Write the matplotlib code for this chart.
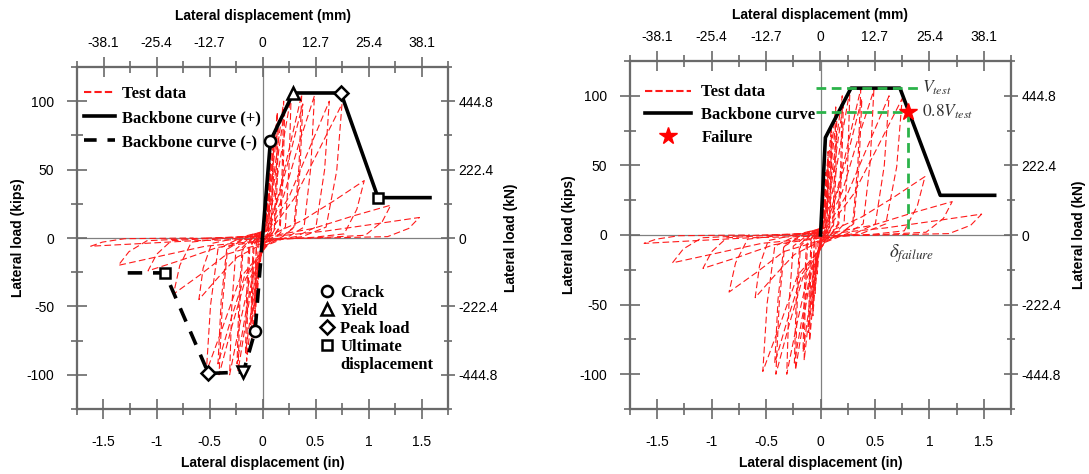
import matplotlib
matplotlib.use('Agg')
import matplotlib.pyplot as plt
from matplotlib.ticker import FixedLocator, MultipleLocator
from matplotlib.lines import Line2D

plt.rcParams['font.family'] = 'Liberation Sans'
plt.rcParams['axes.unicode_minus'] = False
plt.rcParams['mathtext.fontset'] = 'stix'

# test data, one list of (disp in, load kips) per cycle
cycles = [
    [(0,0),(0.01,8),(0.02,19),(0.03,30),(0.027,14),(0.02,2),(0.01,0),(0,-2),(-0.01,-9),(-0.02,-18),(-0.03,-28),(-0.027,-13),(-0.02,-2),(-0.01,0),(0,1)],
    [(-0.01,0),(0.01,5),(0.03,22),(0.05,45),(0.046,22),(0.04,4),(0.025,0),(0,-2),(-0.02,-12),(-0.035,-27),(-0.05,-42),(-0.046,-20),(-0.04,-3),(-0.02,0),(0,1)],
    [(-0.02,0),(0.01,4),(0.03,18),(0.05,38),(0.07,60),(0.065,30),(0.056,5),(0.035,0),(0,-3),(-0.03,-17),(-0.05,-37),(-0.07,-58),(-0.065,-28),(-0.056,-4),(-0.03,0)],
    [(-0.03,0),(0.01,3),(0.035,17),(0.055,35),(0.072,55),(0.067,27),(0.058,4),(0.036,0),(0,-2),(-0.03,-14),(-0.055,-33),(-0.072,-52),(-0.067,-25),(-0.058,-3),(-0.03,0)],
    [(-0.03,0),(0.01,5),(0.04,23),(0.07,50),(0.10,78),(0.093,39),(0.08,6),(0.05,1),(0.01,-3),(-0.04,-22),(-0.07,-49),(-0.10,-76),(-0.093,-37),(-0.08,-5),(-0.04,0)],
    [(-0.04,0),(0.01,4),(0.045,21),(0.075,46),(0.105,72),(0.098,36),(0.084,5),(0.05,1),(0.01,-3),(-0.045,-20),(-0.077,-45),(-0.11,-70),(-0.102,-34),(-0.088,-5),(-0.045,0)],
    [(-0.045,0),(0.015,5),(0.055,27),(0.1,60),(0.14,92),(0.13,46),(0.112,7),(0.07,1),(0.015,-4),(-0.06,-27),(-0.105,-58),(-0.15,-90),(-0.14,-45),(-0.12,-7),(-0.06,0)],
    [(-0.06,0),(0.015,5),(0.06,25),(0.105,56),(0.15,86),(0.14,43),(0.12,7),(0.075,1),(0.015,-4),(-0.065,-25),(-0.11,-55),(-0.16,-84),(-0.15,-42),(-0.13,-7),(-0.065,0)],
    [(-0.065,0),(0.02,6),(0.08,30),(0.14,65),(0.20,100),(0.186,50),(0.16,8),(0.1,1),(0.02,-5),(-0.09,-29),(-0.16,-63),(-0.23,-97),(-0.214,-48),(-0.184,-8),(-0.09,0)],
    [(-0.09,0),(0.02,5),(0.085,28),(0.15,62),(0.21,95),(0.195,47),(0.168,8),(0.105,1),(0.02,-5),(-0.095,-28),(-0.17,-60),(-0.24,-92),(-0.223,-46),(-0.192,-7),(-0.1,0)],
    [(-0.1,0),(0.03,6),(0.11,31),(0.19,68),(0.27,104),(0.25,52),(0.216,8),(0.135,1),(0.03,-5),(-0.12,-30),(-0.22,-65),(-0.31,-100),(-0.29,-50),(-0.25,-8),(-0.12,0)],
    [(-0.12,0),(0.04,6),(0.15,31),(0.26,68),(0.37,105),(0.344,52),(0.296,8),(0.185,1),(0.04,-5),(-0.16,-30),(-0.29,-65),(-0.41,-100),(-0.38,-50),(-0.33,-8),(-0.16,0)],
    [(-0.16,0),(0.04,5),(0.15,29),(0.27,64),(0.38,98),(0.353,49),(0.304,8),(0.19,1),(0.04,-5),(-0.17,-28),(-0.3,-60),(-0.42,-92),(-0.39,-46),(-0.336,-7),(-0.17,0)],
    [(-0.17,0),(0.05,6),(0.2,31),(0.34,68),(0.49,104),(0.456,52),(0.392,8),(0.245,1),(0.05,-5),(-0.21,-29),(-0.37,-64),(-0.53,-98),(-0.49,-49),(-0.42,-8),(-0.21,0)],
    [(-0.21,0),(0.06,6),(0.25,30),(0.44,65),(0.63,100),(0.586,50),(0.504,8),(0.315,1),(0.06,-2),(-0.24,-14),(-0.42,-29),(-0.60,-45),(-0.56,-22),(-0.48,-4),(-0.24,0)],
    [(-0.24,0),(0.08,6),(0.3,29),(0.53,64),(0.75,98),(0.7,49),(0.6,8),(0.375,1),(0.08,-2),(-0.34,-12),(-0.59,-27),(-0.84,-41),(-0.78,-20),(-0.67,-3),(-0.34,0)],
    [(-0.34,0),(0.1,3),(0.38,13),(0.67,27),(0.96,42),(0.89,21),(0.77,3),(0.48,0.5),(0.1,-1),(-0.43,-7),(-0.76,-16),(-1.08,-24),(-1.0,-12),(-0.86,-2),(-0.43,0)],
    [(-0.43,0),(0.12,2),(0.48,7),(0.85,16),(1.21,24),(1.13,12),(0.97,2),(0.6,0.5),(0.12,-1),(-0.54,-6),(-0.95,-13),(-1.36,-20),(-1.26,-10),(-1.09,-2),(-0.54,0)],
    [(-0.54,0),(0.15,1.5),(0.59,5),(1.04,10),(1.48,15),(1.38,7),(1.18,1),(0.74,0.3),(0.15,-0.5),(-0.65,-2),(-1.13,-4),(-1.62,-6),(-1.51,-3),(-1.3,-0.5),(-0.65,0)],
]

# backbone curves (left panel): origin, crack, yield, peak, ultimate, end
bb_pos_x = [0, 0.075, 0.29, 0.74, 1.09, 1.58]
bb_pos_y = [0, 71, 106, 106, 29.5, 29.5]
bb_neg_x = [0, -0.07, -0.18, -0.51, -0.92, -1.33]
bb_neg_y = [0, -68, -98, -99, -25.5, -25.5]

# backbone of the right panel
bb2_x = [0, 0.045, 0.28, 0.73, 1.10, 1.60]
bb2_y = [0, 70, 105.5, 105.5, 28.5, 28.5]
v_test = 105.5
v_08 = 88.5
d_failure = 0.80

in_ticks = [-1.5, -1, -0.5, 0, 0.5, 1, 1.5]
in_labels = ['-1.5', '-1', '-0.5', '0', '0.5', '1', '1.5']
mm_labels = ['-38.1', '-25.4', '-12.7', '0', '12.7', '25.4', '38.1']
kip_ticks = [-100, -50, 0, 50, 100]
kip_labels = ['-100', '-50', '0', '50', '100']
kn_labels = ['-444.8', '-222.4', '0', '222.4', '444.8']

SPINE = '#6a6a6a'
lab_font = dict(fontsize=10, fontweight='bold')
leg_font = dict(family='Liberation Serif', weight='bold', size=12)


def setup_axes(ax, ylab_x, ylab2_x, xlab_top, xlab_bot):
    ax.set_xlim(-1.75, 1.75)
    ax.set_ylim(-125, 125)
    ax.set_xticks(in_ticks, in_labels)
    ax.set_yticks(kip_ticks, kip_labels)
    ax.xaxis.set_minor_locator(MultipleLocator(0.25))
    ax.yaxis.set_minor_locator(MultipleLocator(25))
    ax.tick_params(axis='x', which='major', direction='inout', length=15, width=1.2, color=SPINE, pad=11, labelsize=10)
    ax.tick_params(axis='y', which='major', direction='inout', length=15, width=1.2, color=SPINE, pad=9, labelsize=10)
    ax.tick_params(which='minor', direction='inout', length=9, width=1.2, color=SPINE)
    for s in ax.spines.values():
        s.set_color(SPINE)
        s.set_linewidth(1.5)
    ax.axhline(0, color='#808080', lw=0.9, zorder=0)
    ax.axvline(0, color='#808080', lw=0.9, zorder=0)
    ax.set_xlabel('Lateral displacement (in)', **lab_font)
    ax.set_ylabel('Lateral load (kips)', **lab_font)
    ax.xaxis.set_label_coords(0.5, xlab_bot)
    ax.yaxis.set_label_coords(ylab_x, 0.5)

    top = ax.twiny()
    top.set_xlim(-1.75, 1.75)
    top.set_xticks(in_ticks, mm_labels)
    top.xaxis.set_minor_locator(MultipleLocator(0.25))
    top.tick_params(which='major', direction='inout', length=15, width=1.2, color=SPINE, pad=5, labelsize=10)
    top.tick_params(which='minor', direction='inout', length=9, width=1.2, color=SPINE)
    top.set_xlabel('Lateral displacement (mm)', **lab_font)
    top.xaxis.set_label_coords(0.5, xlab_top)

    right = ax.twinx()
    right.set_ylim(-125, 125)
    right.set_yticks(kip_ticks, kn_labels)
    right.yaxis.set_minor_locator(MultipleLocator(25))
    right.tick_params(which='major', direction='inout', length=10, width=1.2, color=SPINE, pad=2.5, labelsize=10)
    right.tick_params(which='minor', direction='inout', length=6, width=1.2, color=SPINE)
    right.set_ylabel('Lateral load (kN)', **lab_font)
    right.yaxis.set_label_coords(ylab2_x, 0.5)
    for a in (top, right):
        for s in a.spines.values():
            s.set_color(SPINE)
            s.set_linewidth(1.5)


def draw_test(ax):
    for c in cycles:
        xs = [p[0] for p in c]
        ys = [p[1] for p in c]
        ax.plot(xs, ys, color='#ff1a1a', lw=0.8, dashes=(6, 3), zorder=1)


fig = plt.figure(figsize=(10.89, 4.74), dpi=100)
ax1 = fig.add_axes([77/1089, 65/474, 371/1089, 342/474])
ax2 = fig.add_axes([630/1089, 65/474, 381/1089, 348/474])

# ---- left panel ----
draw_test(ax1)
ax1.plot(bb_pos_x, bb_pos_y, color='black', lw=2.6, zorder=3)
ax1.plot(bb_neg_x, bb_neg_y, color='black', lw=2.6, dashes=(4, 3), zorder=3)
mk = dict(color='black', mfc='white', mec='black', mew=1.8, ms=8, ls='none', zorder=4)
ax1.plot([bb_pos_x[1], bb_neg_x[1]], [bb_pos_y[1], bb_neg_y[1]], marker='o', **mk)
ax1.plot([bb_pos_x[2]], [bb_pos_y[2]], marker='^', **mk)
ax1.plot([bb_neg_x[2]], [bb_neg_y[2]], marker='v', **mk)
ax1.plot([bb_pos_x[3], bb_neg_x[3]], [bb_pos_y[3], bb_neg_y[3]], marker='D', **dict(mk, ms=7))
ax1.plot([bb_pos_x[4], bb_neg_x[4]], [bb_pos_y[4], bb_neg_y[4]], marker='s', **dict(mk, ms=7))

h1 = [Line2D([], [], color='#ff1a1a', lw=1.5, dashes=(3.5, 1.5)),
      Line2D([], [], color='black', lw=2.6),
      Line2D([], [], color='black', lw=2.6, dashes=(3.5, 3))]
leg1 = ax1.legend(h1, ['Test data', 'Backbone curve (+)', 'Backbone curve (-)'],
                  loc='upper left', bbox_to_anchor=(0.0, 0.965), borderaxespad=0,
                  frameon=False, prop=leg_font, handlelength=1.9, handletextpad=0.4,
                  labelspacing=0.5)
ax1.add_artist(leg1)
mh = dict(color='black', mfc='white', mec='black', mew=1.8, ms=8, ls='none')
h2 = [Line2D([], [], marker='o', **mh),
      Line2D([], [], marker='^', **mh),
      Line2D([], [], marker='D', **dict(mh, ms=7)),
      Line2D([], [], marker='s', **dict(mh, ms=7)),
      Line2D([], [], ls='none')]
ax1.legend(h2, ['Crack', 'Yield', 'Peak load', 'Ultimate', 'displacement'],
           loc='upper left', bbox_to_anchor=(0.633, 0.383), borderaxespad=0,
           frameon=False, prop=leg_font, handlelength=1.0, handletextpad=0.3,
           labelspacing=0.12, numpoints=1)

setup_axes(ax1, -0.14, 1.151, 1.137, -0.137)

# ---- right panel ----
draw_test(ax2)
ax2.plot(bb2_x, bb2_y, color='black', lw=2.6, zorder=3)
GREEN = '#2bb34a'
ax2.plot([-0.045, 0.91], [v_test, v_test], color=GREEN, lw=2, dashes=(3.5, 2), zorder=5)
ax2.plot([-0.045, d_failure], [v_08, v_08], color=GREEN, lw=2, dashes=(3.5, 2), zorder=5)
ax2.plot([d_failure, d_failure], [v_08, 0], color=GREEN, lw=2, dashes=(3.5, 2), zorder=5)
ax2.plot([d_failure], [v_08], marker='*', color='red', ms=13, ls='none', zorder=6)
ax2.text(0.93, v_test, r'$V_{test}$', fontsize=12.5, color='#333333', ha='left', va='center')
ax2.text(0.93, v_08, r'$0.8V_{test}$', fontsize=12.5, color='#333333', ha='left', va='center')
ax2.text(0.63, -13, r'$\delta_{failure}$', fontsize=13.5, color='#333333', ha='left', va='center')

h3 = [Line2D([], [], color='#ff1a1a', lw=1.5, dashes=(3.5, 1.5)),
      Line2D([], [], color='black', lw=2.6),
      Line2D([], [], marker='*', color='red', ms=13, ls='none')]
ax2.legend(h3, ['Test data', 'Backbone curve', 'Failure'],
           loc='upper left', bbox_to_anchor=(0.021, 0.952), borderaxespad=0,
           frameon=False, prop=leg_font, handlelength=2.8, handletextpad=0.6,
           labelspacing=0.4, numpoints=1)

setup_axes(ax2, -0.142, 1.16, 1.12, -0.135)

fig.savefig('out.png', dpi=100)
